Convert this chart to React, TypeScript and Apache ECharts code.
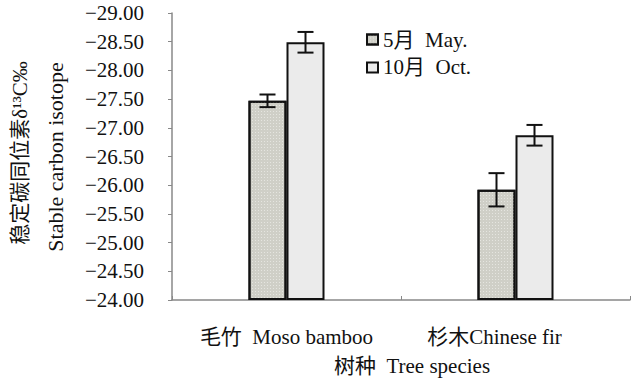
import React, { useEffect, useRef } from "react";
import * as echarts from "echarts";

const categories = ["毛竹  Moso bamboo", "杉木Chinese fir"];
const seriesNames = ["5月  May.", "10月  Oct."];
const mayValues = [-27.47, -25.92];
const mayErrors = [0.11, 0.29];
const octValues = [-28.49, -26.87];
const octErrors = [0.18, 0.18];
const yMin = -29;
const yMax = -24;
const yInterval = 0.5;
const yTitleCn = "稳定碳同位素δ¹³C‰";
const yTitleEn = "Stable carbon isotope";
const xTitle = "树种  Tree species";

const SERIF = "'Liberation Serif', 'Times New Roman', 'Noto Sans CJK SC', serif";
const BAR_W = 38;

function errorSeries(values: number[], errors: number[], offset: number) {
  return {
    type: "custom",
    silent: true,
    z: 5,
    encode: { x: 0, y: 1 },
    data: values.map((v, i) => [i, v, errors[i]]),
    renderItem: (params: any, api: any) => {
      const ci = api.value(0);
      const v = api.value(1);
      const e = api.value(2);
      const top = api.coord([ci, v - e]);
      const bot = api.coord([ci, v + e]);
      const x = top[0] + offset;
      const st = { stroke: "#111", lineWidth: 2 };
      return {
        type: "group",
        children: [
          { type: "line", shape: { x1: x, y1: top[1], x2: x, y2: bot[1] }, style: st },
          { type: "line", shape: { x1: x - 8, y1: top[1], x2: x + 8, y2: top[1] }, style: st },
          { type: "line", shape: { x1: x - 8, y1: bot[1], x2: x + 8, y2: bot[1] }, style: st },
        ],
      };
    },
  };
}

export default function App() {
  const ref = useRef<HTMLDivElement>(null);
  useEffect(() => {
    if (!ref.current) return;
    const chart = echarts.init(ref.current, undefined, { renderer: "svg" });
    chart.setOption({
      animation: false,
      backgroundColor: "#fff",
      textStyle: { fontFamily: SERIF },
      grid: { left: 172, right: 10, top: 13, bottom: 78 },
      legend: {
        orient: "vertical",
        left: 361,
        top: 24,
        itemWidth: 11,
        itemHeight: 10,
        itemGap: 7,
        icon: "rect",
        textStyle: { fontFamily: SERIF, fontSize: 21, color: "#111" },
        data: seriesNames,
      },
      xAxis: {
        type: "category",
        data: categories,
        axisLine: { lineStyle: { color: "#888", width: 1.5 } },
        axisTick: { show: true, inside: true, length: 4, lineStyle: { color: "#888" } },
        axisLabel: {
          margin: 26,
          formatter: (v: string) => (v === categories[1] ? "{b|" + v + "}" : "{a|" + v + "}"),
          rich: {
            a: { fontFamily: SERIF, fontSize: 21, color: "#111" },
            b: { fontFamily: SERIF, fontSize: 21, color: "#111", padding: [0, 42, 0, 0] },
          },
        },
        name: xTitle,
        nameLocation: "middle",
        nameGap: 55,
        nameTextStyle: { fontFamily: SERIF, fontSize: 21, color: "#111", padding: [0, 0, 0, 22] },
      },
      yAxis: {
        type: "value",
        inverse: true,
        min: yMin,
        max: yMax,
        interval: yInterval,
        startValue: yMax,
        splitLine: { show: false },
        axisLine: { show: true, lineStyle: { color: "#888", width: 1.5 } },
        axisTick: { show: true, length: 4, lineStyle: { color: "#888" } },
        axisLabel: {
          margin: 28,
          fontFamily: SERIF,
          fontSize: 21,
          color: "#111",
          formatter: (v: number) => "−" + Math.abs(v).toFixed(2),
        },
      },
      graphic: [
        {
          type: "text",
          x: 20,
          y: 153,
          rotation: Math.PI / 2,
          style: {
            text: yTitleCn,
            font: "21px " + SERIF,
            fill: "#111",
            textAlign: "center",
            textVerticalAlign: "middle",
          },
        },
        {
          type: "text",
          x: 55,
          y: 157,
          rotation: Math.PI / 2,
          style: {
            text: yTitleEn,
            font: "22px " + SERIF,
            fill: "#111",
            textAlign: "center",
            textVerticalAlign: "middle",
          },
        },
      ],
      series: [
        {
          name: seriesNames[0],
          type: "bar",
          barWidth: BAR_W,
          barGap: "0%",
          clip: true,
          data: mayValues,
          itemStyle: {
            color: "#cfcfc7",
            borderColor: "#111",
            borderWidth: 2,
            decal: {
              symbol: "rect",
              symbolSize: 1,
              dashArrayX: [1, 2],
              dashArrayY: [1, 2],
              color: "rgba(255,255,255,0.45)",
              rotation: 0,
            },
          },
        },
        {
          name: seriesNames[1],
          type: "bar",
          barWidth: BAR_W,
          barGap: "0%",
          clip: true,
          data: octValues,
          itemStyle: { color: "#ebebeb", borderColor: "#111", borderWidth: 2 },
        },
        errorSeries(mayValues, mayErrors, -BAR_W / 2),
        errorSeries(octValues, octErrors, BAR_W / 2),
      ],
    });
    return () => chart.dispose();
  }, []);
  return <div ref={ref} style={{ position: "fixed", left: 0, top: 0, width: 640, height: 381 }} />;
}
